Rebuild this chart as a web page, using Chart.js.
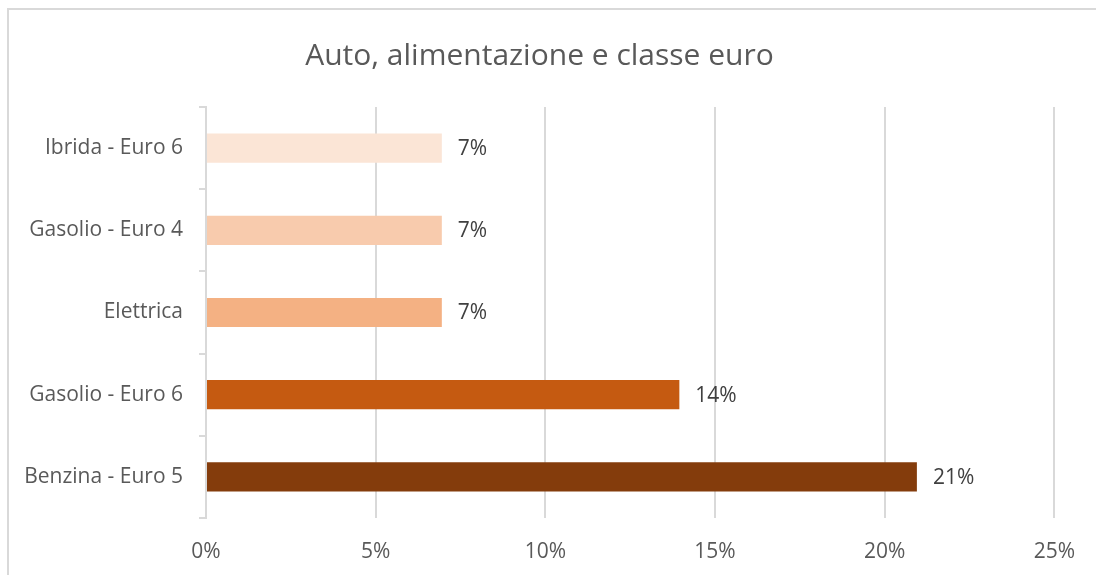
<!DOCTYPE html>
<html>
<head>
<meta charset="utf-8">
<script src="https://cdn.jsdelivr.net/npm/chart.js@4"></script>
<style>
  html, body { margin: 0; padding: 0; background: #fff; overflow: hidden; }
</style>
</head>
<body>
<canvas id="autoChart" width="1096" height="575"></canvas>
<script>
// ================= DATA =================
const categories = ["Ibrida - Euro 6", "Gasolio - Euro 4", "Elettrica", "Gasolio - Euro 6", "Benzina - Euro 5"];
const shares = [6.95, 6.95, 6.95, 13.95, 20.95];
const barColors = ["#FBE5D6", "#F8CBAD", "#F4B183", "#C55A11", "#843C0C"];
const xTicks = [0, 5, 10, 15, 20, 25];

const FONT = "'Open Sans', sans-serif";

// outer frame like the excel chart box
const framePlugin = {
  id: "frame",
  beforeDraw(chart) {
    const ctx = chart.ctx;
    ctx.save();
    ctx.strokeStyle = "#d9d9d9";
    ctx.lineWidth = 2;
    ctx.strokeRect(8, 9, 1200, 1200);
    ctx.restore();
  }
};

// value labels at the end of each bar
const valueLabels = {
  id: "valueLabels",
  afterDatasetsDraw(chart) {
    const ctx = chart.ctx;
    const meta = chart.getDatasetMeta(0);
    ctx.save();
    ctx.font = "21px " + FONT;
    ctx.fillStyle = "#404040";
    ctx.textAlign = "left";
    ctx.textBaseline = "middle";
    meta.data.forEach((bar, i) => {
      ctx.fillText(Math.round(shares[i]) + "%", bar.x + 16, bar.y + 1);
    });
    ctx.restore();
  }
};

new Chart(document.getElementById("autoChart"), {
  type: "bar",
  data: {
    labels: categories,
    datasets: [{
      data: shares,
      backgroundColor: barColors,
      categoryPercentage: 1,
      barPercentage: 0.355
    }]
  },
  options: {
    indexAxis: "y",
    responsive: false,
    animation: false,
    layout: { padding: { left: 22, right: 39, top: 0, bottom: 11 } },
    plugins: {
      legend: { display: false },
      tooltip: { enabled: false },
      title: {
        display: true,
        text: "Auto, alimentazione e classe euro",
        color: "#595959",
        font: { family: FONT, size: 30, weight: "normal" },
        padding: { top: 38, bottom: 33 }
      }
    },
    scales: {
      x: {
        min: 0,
        max: 25,
        afterBuildTicks: s => { s.ticks = xTicks.map(v => ({ value: v })); },
        afterFit: s => { s.height = 46; },
        ticks: {
          color: "#595959",
          font: { family: FONT, size: 21 },
          padding: 21,
          callback: v => v + "%"
        },
        grid: { color: "#d9d9d9", lineWidth: 2, drawTicks: false },
        border: { display: false }
      },
      y: {
        afterFit: s => { s.width = 184; },
        ticks: {
          color: "#595959",
          font: { family: FONT, size: 21 },
          padding: 16
        },
        grid: { drawOnChartArea: false, color: "#d9d9d9", lineWidth: 2, tickLength: 7, offset: true },
        border: { color: "#d9d9d9", width: 2 }
      }
    }
  },
  plugins: [framePlugin, valueLabels]
});
</script>
</body>
</html>
